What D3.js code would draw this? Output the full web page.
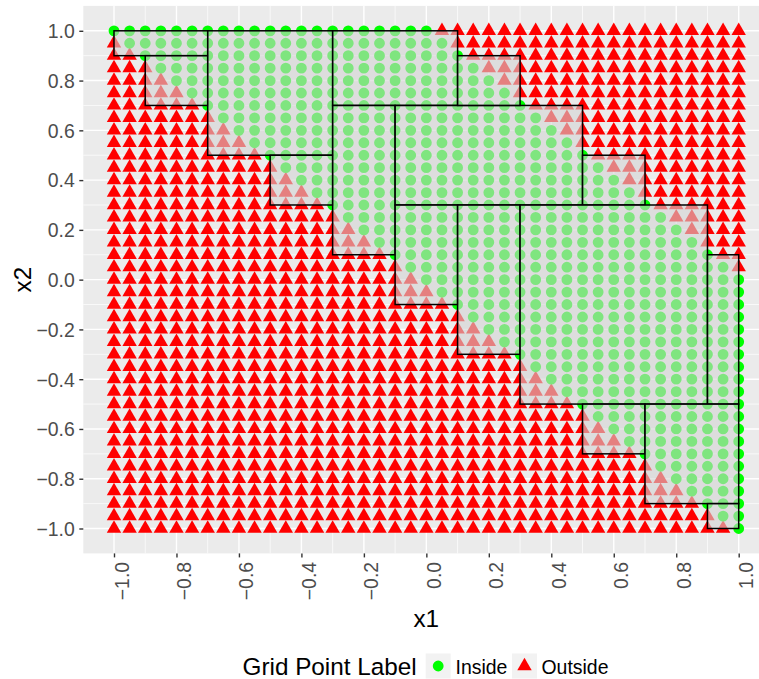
<!DOCTYPE html>
<html>
<head>
<meta charset="utf-8">
<style>
html,body{margin:0;padding:0;background:#fff;overflow:hidden}
svg{display:block}
text{font-family:"Liberation Sans",Arial,sans-serif}
</style>
<script src="https://cdn.jsdelivr.net/npm/d3@7"></script>
</head>
<body>
<svg id="chart" width="759" height="679"></svg>
<script>
const gridValues = [-1,-0.95,-0.9,-0.85,-0.8,-0.75,-0.7,-0.65,-0.6,-0.55,-0.5,-0.45,-0.4,-0.35,-0.3,-0.25,-0.2,-0.15,-0.1,-0.05,0,0.05,0.1,0.15,0.2,0.25,0.3,0.35,0.4,0.45,0.5,0.55,0.6,0.65,0.7,0.75,0.8,0.85,0.9,0.95,1];
// For each x2 row (same order as gridValues): first and last x1 labelled Inside
const insideFrom = [1,0.95,0.9,0.85,0.8,0.75,0.7,0.65,0.6,0.55,0.5,0.45,0.4,0.35,0.3,0.25,0.2,0.15,0.1,0.05,0,-0.05,-0.1,-0.15,-0.2,-0.25,-0.3,-0.35,-0.4,-0.45,-0.5,-0.55,-0.6,-0.65,-0.7,-0.75,-0.8,-0.85,-0.9,-0.95,-1];
const insideTo = [1,1,1,1,1,1,1,1,1,1,1,1,1,1,1,1,1,1,1,1,1,0.95,0.9,0.85,0.8,0.75,0.7,0.65,0.6,0.55,0.5,0.45,0.4,0.35,0.3,0.25,0.2,0.15,0.1,0.05,0];
const tickValues = [-1,-0.8,-0.6,-0.4,-0.2,0,0.2,0.4,0.6,0.8,1];
const minorValues = [-0.9,-0.7,-0.5,-0.3,-0.1,0.1,0.3,0.5,0.7,0.9];
const rectXmin = [-1,-0.9,-0.7,-0.5,-0.3,-0.3,-0.1,0.1,0.5,-0.1,0.1,0.3,0.9,0.5,0.7,0.9];
const rectXmax = [-0.7,-0.7,-0.3,-0.3,0.1,-0.1,0.5,0.3,0.7,0.1,0.3,0.9,1,0.7,1,1];
const rectYmin = [0.9,0.7,0.5,0.3,0.7,0.1,0.3,0.7,0.3,-0.1,-0.3,-0.5,-0.5,-0.7,-0.9,-1];
const rectYmax = [1,0.9,1,0.5,1,0.7,0.7,0.9,0.5,0.3,0.3,0.3,0.1,-0.5,-0.5,-0.9];
const legendTitle = "Grid Point Label";
const legendLabels = ["Inside","Outside"];
const labelColors = {Inside:"#00FF00",Outside:"#FF0000"};

const svg = d3.select("#chart");
const panel = {left:83.3, top:5.9, bottom:553.4, right:759};
const x = d3.scaleLinear().domain([-1,1]).range([114,738.7]);
const y = d3.scaleLinear().domain([-1,1]).range([528.5,30.8]);

svg.append("rect").attr("x",panel.left).attr("y",panel.top)
  .attr("width",panel.right-panel.left).attr("height",panel.bottom-panel.top).attr("fill","#EBEBEB");

// grid
const g = svg.append("g").attr("fill","none").attr("stroke","#fff");
g.selectAll(".vm").data(minorValues).join("line").attr("x1",x).attr("x2",x).attr("y1",panel.top).attr("y2",panel.bottom).attr("stroke-width",0.7);
g.selectAll(".hm").data(minorValues).join("line").attr("x1",panel.left).attr("x2",panel.right).attr("y1",y).attr("y2",y).attr("stroke-width",0.7);
g.selectAll(".vM").data(tickValues).join("line").attr("x1",x).attr("x2",x).attr("y1",panel.top).attr("y2",panel.bottom).attr("stroke-width",1.4);
g.selectAll(".hM").data(tickValues).join("line").attr("x1",panel.left).attr("x2",panel.right).attr("y1",y).attr("y2",y).attr("stroke-width",1.4);

// points: one per (x1, x2) grid cell; insideFrom/insideTo are indexed by x2 row
const points = [];
gridValues.forEach((x2, i) => {
  gridValues.forEach(x1 => {
    const isIn = x1 >= insideFrom[i]-1e-9 && x1 <= insideTo[i]+1e-9;
    points.push({x1, x2, label: isIn ? "Inside" : "Outside"});
  });
});
const circleSym = d3.symbol().type(d3.symbolCircle).size(92)();
const triSym = d3.symbol().type(d3.symbolTriangle).size(90)();
svg.append("g").selectAll("path").data(points).join("path")
  .attr("transform", d => `translate(${x(d.x1)},${y(d.x2)})`)
  .attr("d", d => d.label === "Inside" ? circleSym : triSym)
  .attr("fill", d => labelColors[d.label]);

// rectangles
svg.append("g").selectAll("rect").data(d3.range(rectXmin.length)).join("rect")
  .attr("x", i => x(rectXmin[i]))
  .attr("y", i => y(rectYmax[i]))
  .attr("width", i => x(rectXmax[i]) - x(rectXmin[i]))
  .attr("height", i => y(rectYmin[i]) - y(rectYmax[i]))
  .attr("fill","#D3D3D3").attr("fill-opacity",0.6)
  .attr("stroke","#000").attr("stroke-width",1.5);

// axes
const fmt = d3.format(".1f");
const axY = svg.append("g").attr("transform",`translate(${panel.left},0)`)
  .call(d3.axisLeft(y).tickValues(tickValues).tickFormat(fmt).tickSize(4).tickPadding(4.5));
axY.select(".domain").remove();
axY.selectAll("line").attr("stroke","#333").attr("stroke-width",1.4);
axY.selectAll("text").attr("fill","#4D4D4D").attr("font-size",19.44).attr("dy","0.35em");

const axX = svg.append("g").attr("transform",`translate(0,${panel.bottom})`)
  .call(d3.axisBottom(x).tickValues(tickValues).tickFormat(fmt).tickSize(4));
axX.select(".domain").remove();
axX.selectAll("line").attr("stroke","#333").attr("stroke-width",1.4);
axX.selectAll("text").attr("fill","#4D4D4D").attr("font-size",19.44)
  .attr("text-anchor","end").attr("dy",0).attr("y",0)
  .attr("transform","translate(14,8.5) rotate(-90)");

// titles
svg.append("text").attr("x",426.3).attr("y",627).attr("text-anchor","middle").attr("font-size",24.3).attr("fill","#000").text("x1");
svg.append("text").attr("transform","translate(30.5,279.6) rotate(-90)").attr("text-anchor","middle").attr("font-size",24.3).attr("fill","#000").text("x2");

// legend
const lg = svg.append("g");
lg.append("text").attr("x",242.5).attr("y",675).attr("font-size",24.3).attr("fill","#000").text(legendTitle);
const keyX = [425.7,512], labelX = [455.5,541.5];
legendLabels.forEach((lab,i)=>{
  lg.append("rect").attr("x",keyX[i]).attr("y",653.5).attr("width",25).attr("height",25).attr("fill","#F2F2F2");
  lg.append("path").attr("transform",`translate(${keyX[i]+12.5},666)`)
    .attr("d", lab==="Inside"?circleSym:triSym).attr("fill",labelColors[lab]);
  lg.append("text").attr("x",labelX[i]).attr("y",674).attr("font-size",19.44).attr("fill","#000").text(lab);
});
</script>
</body>
</html>
